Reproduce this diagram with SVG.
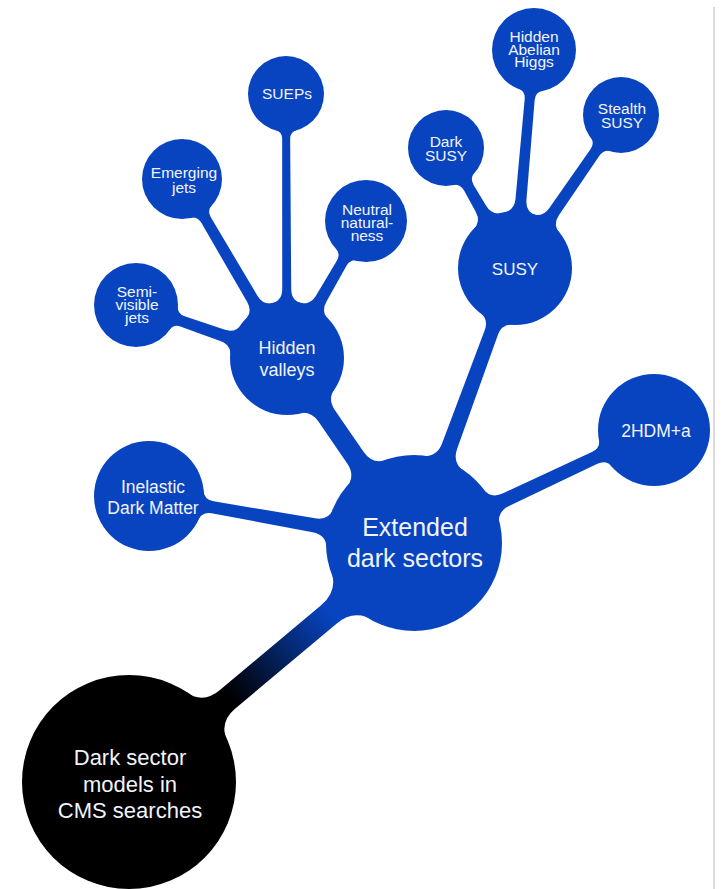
<svg xmlns="http://www.w3.org/2000/svg" width="723" height="889" viewBox="0 0 723 889">
<style>
.blob{fill:#0844c0}
.lbl{font-family:"Liberation Sans",Arial,Helvetica,sans-serif;fill:#f2f4fa;text-anchor:middle}
.s15{font-size:15.5px}
</style>
<defs>
<linearGradient id="rootStem" gradientUnits="userSpaceOnUse" x1="110" y1="0" x2="240" y2="0">
<stop offset="0" stop-color="#0844c0"/>
<stop offset="1" stop-color="#000000"/>
</linearGradient>
</defs>
<rect x="0" y="0" width="723" height="889" fill="#ffffff"/>
<line x1="714" y1="7" x2="714" y2="889" stroke="#cfcfcf" stroke-width="1.5"/>
<g id="connectors" class="blob">
<path id="c-ext-root" fill="url(#rootStem)" transform="translate(414 543) rotate(140.02)" d="M80.26 34.85 Q87.18 12 111.18 12 L243.62 12 Q265.62 12 270.79 33.3 L270.79 -33.3 Q265.62 -12 243.62 -12 L111.18 -12 Q87.18 -12 80.26 -34.85 Z"/>
<path id="c-ext-inelastic" transform="translate(414 543) rotate(-169.94)" d="M85.02 20.69 Q87.72 7 101.7 7 L204.5 6 Q214.47 6 216.93 15.64 L216.93 -15.64 Q214.47 -6 204.5 -6 L101.7 -7 Q87.72 -7 85.02 -20.69 Z"/>
<path id="c-ext-2hdm" transform="translate(414 543) rotate(-25.21)" d="M85.02 20.69 Q87.72 7 101.7 7 L199.65 6.5 Q209.65 6.5 212.16 16.12 L212.16 -16.12 Q209.65 -6.5 199.65 -6.5 L101.7 -7 Q87.72 -7 85.02 -20.69 Z"/>
<path id="c-ext-hidden" transform="translate(414 543) rotate(-124.47)" d="M83.7 25.49 Q87.43 10 103.43 10 L154.28 10 Q168.28 10 172.85 23.13 L172.85 -23.13 Q168.28 -10 154.28 -10 L103.43 -10 Q87.43 -10 83.7 -25.49 Z"/>
<path id="c-ext-susy" transform="translate(414 543) rotate(-69.83)" d="M84.26 23.59 Q87.64 8 103.64 8 L224.39 7 Q236.39 7 239.57 18.5 L239.57 -18.5 Q236.39 -7 224.39 -7 L103.64 -8 Q87.64 -8 84.26 -23.59 Z"/>
<path id="c-hidden-semi" transform="translate(287 358) rotate(-160.66)" d="M53.7 17.55 Q56.68 6 68.68 6 L110.39 5.5 Q118.39 5.5 120.66 13.12 L120.66 -13.12 Q118.39 -5.5 110.39 -5.5 L68.68 -6 Q56.68 -6 53.7 -17.55 Z"/>
<path id="c-hidden-emerging" transform="translate(287 358) rotate(-120.4)" d="M53.7 17.55 Q56.68 6 68.68 6 L159.9 5.5 Q167.9 5.5 170.25 13.09 L170.25 -13.09 Q167.9 -5.5 159.9 -5.5 L68.68 -6 Q56.68 -6 53.7 -17.55 Z"/>
<path id="c-hidden-sueps" transform="translate(287 358) rotate(-90.22)" d="M54.15 16.13 Q56.82 4.5 68.82 4.5 L219.21 4 Q226.21 4 228.06 10.71 L228.06 -10.71 Q226.21 -4 219.21 -4 L68.82 -4.5 Q56.82 -4.5 54.15 -16.13 Z"/>
<path id="c-hidden-neutral" transform="translate(287 358) rotate(-60.03)" d="M53.7 17.55 Q56.68 6 68.68 6 L109.52 5.5 Q117.52 5.5 119.83 13.11 L119.83 -13.11 Q117.52 -5.5 109.52 -5.5 L68.68 -6 Q56.68 -6 53.7 -17.55 Z"/>
<path id="c-susy-dark" transform="translate(515 268) rotate(-119.9)" d="M53.7 17.55 Q56.68 6 68.68 6 L92.82 5.5 Q100.82 5.5 103.27 13.06 L103.27 -13.06 Q100.82 -5.5 92.82 -5.5 L68.68 -6 Q56.68 -6 53.7 -17.55 Z"/>
<path id="c-susy-higgs" transform="translate(515 268) rotate(-85.02)" d="M53.86 17.08 Q56.73 5.5 68.73 5.5 L169.13 5 Q177.13 5 179.31 12.65 L179.31 -12.65 Q177.13 -5 169.13 -5 L68.73 -5.5 Q56.73 -5.5 53.86 -17.08 Z"/>
<path id="c-susy-stealth" transform="translate(515 268) rotate(-55.29)" d="M53.7 17.55 Q56.68 6 68.68 6 L140.53 5.5 Q148.53 5.5 150.98 13.06 L150.98 -13.06 Q148.53 -5.5 140.53 -5.5 L68.68 -6 Q56.68 -6 53.7 -17.55 Z"/>
</g>
<g id="node-root">
<circle cx="129" cy="782" r="107" fill="#000000"/>
<text class="lbl" x="130" y="765" font-size="22">Dark sector</text>
<text class="lbl" x="130" y="792" font-size="22">models in</text>
<text class="lbl" x="130" y="818" font-size="22">CMS searches</text>
</g>
<g id="node-extended">
<circle class="blob" cx="414" cy="543" r="88"/>
<text class="lbl" x="415" y="536" font-size="25">Extended</text>
<text class="lbl" x="415" y="567" font-size="25">dark sectors</text>
</g>
<g id="node-inelastic">
<circle class="blob" cx="149" cy="496" r="55"/>
<text class="lbl" x="153" y="493" font-size="17.5">Inelastic</text>
<text class="lbl" x="153" y="514" font-size="17.5">Dark Matter</text>
</g>
<g id="node-2hdm">
<circle class="blob" cx="654" cy="430" r="56"/>
<text class="lbl" x="656" y="437" font-size="17.5">2HDM+a</text>
</g>
<g id="node-hidden">
<circle class="blob" cx="287" cy="358" r="57"/>
<text class="lbl" x="287" y="354" font-size="18">Hidden</text>
<text class="lbl" x="287" y="376" font-size="18">valleys</text>
</g>
<g id="node-semi">
<circle class="blob" cx="136" cy="305" r="42"/>
<text class="lbl s15" x="137" y="297">Semi-</text>
<text class="lbl s15" x="137" y="310">visible</text>
<text class="lbl s15" x="137" y="323">jets</text>
</g>
<g id="node-emerging">
<circle class="blob" cx="182" cy="179" r="40"/>
<text class="lbl s15" x="184" y="178">Emerging</text>
<text class="lbl s15" x="184" y="193">jets</text>
</g>
<g id="node-sueps">
<circle class="blob" cx="286" cy="94" r="38"/>
<text class="lbl s15" x="287" y="99">SUEPs</text>
</g>
<g id="node-neutral">
<circle class="blob" cx="366" cy="221" r="41"/>
<text class="lbl s15" x="367" y="215">Neutral</text>
<text class="lbl s15" x="367" y="228">natural-</text>
<text class="lbl s15" x="367" y="241">ness</text>
</g>
<g id="node-susy">
<circle class="blob" cx="515" cy="268" r="57"/>
<text class="lbl" x="515" y="275" font-size="17">SUSY</text>
</g>
<g id="node-darksusy">
<circle class="blob" cx="446" cy="148" r="38"/>
<text class="lbl s15" x="446" y="147">Dark</text>
<text class="lbl s15" x="446" y="161">SUSY</text>
</g>
<g id="node-higgs">
<circle class="blob" cx="534" cy="50" r="42"/>
<text class="lbl s15" x="534" y="42">Hidden</text>
<text class="lbl s15" x="534" y="54.5">Abelian</text>
<text class="lbl s15" x="534" y="67">Higgs</text>
</g>
<g id="node-stealth">
<circle class="blob" cx="621" cy="115" r="38"/>
<text class="lbl s15" x="622" y="114">Stealth</text>
<text class="lbl s15" x="622" y="128">SUSY</text>
</g>
</svg>
